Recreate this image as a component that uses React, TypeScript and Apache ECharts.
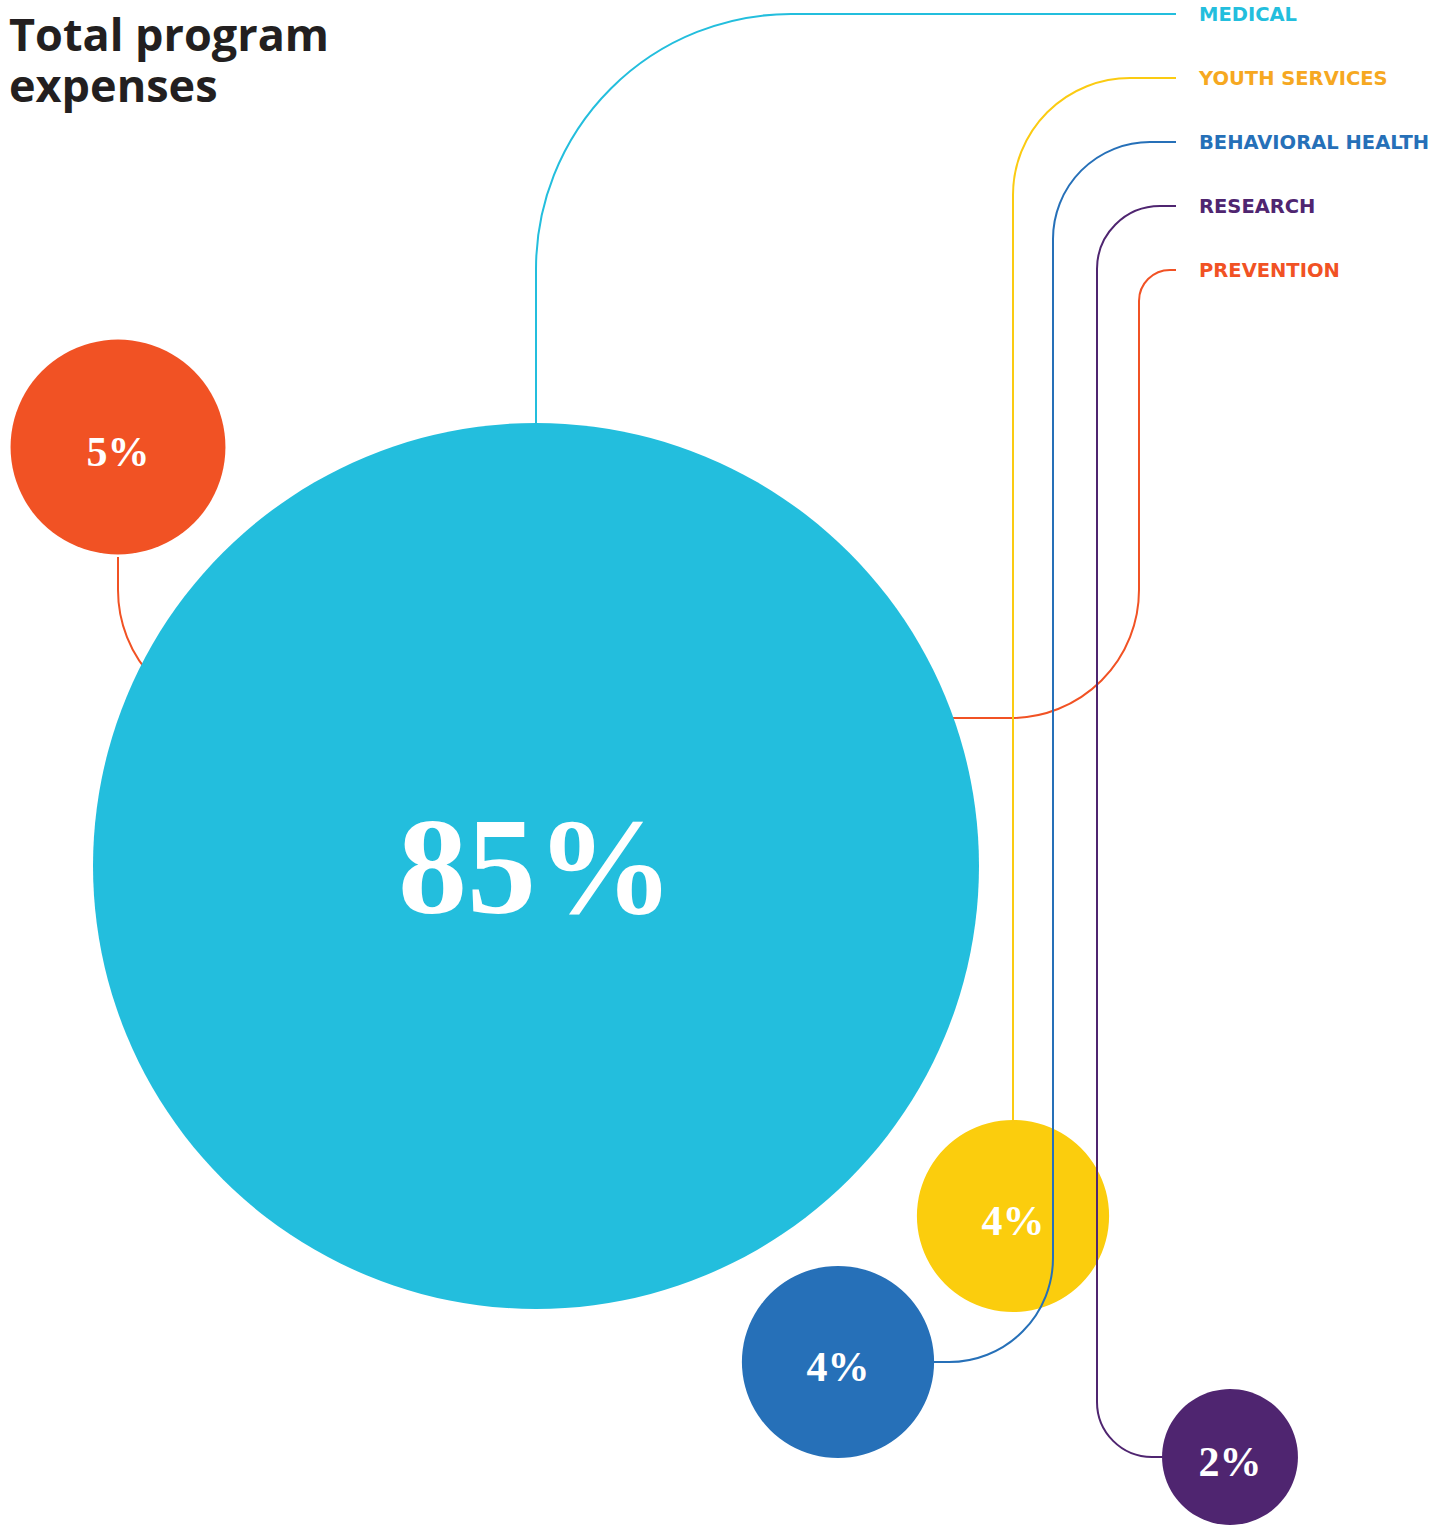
import React, { useEffect, useRef } from "react";
import * as echarts from "echarts";

// ---- data ----
const categories = ["Medical", "Youth Services", "Behavioral Health", "Research", "Prevention"];
const shares = [85, 4, 4, 2, 5];
const legendLabels = ["MEDICAL", "YOUTH SERVICES", "BEHAVIORAL HEALTH", "RESEARCH", "PREVENTION"];
const titleText = "Total program\nexpenses";

// ---- layout (axes are 1:1 with pixels) ----
const centers = [
  [536, 866],
  [1013, 1216],
  [838, 1362],
  [1230, 1457],
  [118, 447],
];
const routes = [
  [[536, 424], [536, 14], [1176, 14]],
  [[1013, 1124], [1013, 78], [1176, 78]],
  [[931, 1362], [1053, 1362], [1053, 142], [1176, 142]],
  [[1163, 1457], [1097, 1457], [1097, 206], [1176, 206]],
  [[118, 557], [118, 718], [1139, 718], [1139, 270], [1176, 270]],
];
const cornerRadii = [[255], [117], [104, 97], [55, 63], [128, 128, 31]];
const behind = [false, false, false, false, true];

// ---- styles ----
const fillColors = ["#23BEDD", "#FBCD0D", "#2670B8", "#4F2570", "#F15224"];
const lineColors = ["#23BEDD", "#FBCB12", "#2670B8", "#4F2570", "#F15224"];
const textColors = ["#23BEDD", "#F6A821", "#2670B8", "#4F2570", "#F15224"];
const sizeFactor = 96.1;

function roundedPath(pts: number[][], radii: number[]): string {
  let d = `M${pts[0][0]},${pts[0][1]}`;
  for (let i = 1; i < pts.length - 1; i++) {
    const p0 = pts[i - 1], p = pts[i], p1 = pts[i + 1];
    const r = radii[i - 1];
    const l0 = Math.hypot(p[0] - p0[0], p[1] - p0[1]);
    const l1 = Math.hypot(p1[0] - p[0], p1[1] - p[1]);
    const din = [(p[0] - p0[0]) / l0, (p[1] - p0[1]) / l0];
    const dout = [(p1[0] - p[0]) / l1, (p1[1] - p[1]) / l1];
    const a = [p[0] - din[0] * r, p[1] - din[1] * r];
    const b = [p[0] + dout[0] * r, p[1] + dout[1] * r];
    const cross = din[0] * dout[1] - din[1] * dout[0];
    const sweep = cross > 0 ? 1 : 0;
    d += ` L${a[0]},${a[1]} A${r},${r} 0 0 ${sweep} ${b[0]},${b[1]}`;
  }
  const last = pts[pts.length - 1];
  d += ` L${last[0]},${last[1]}`;
  return d;
}

function connectorSeries(isBehind: boolean) {
  const idx = routes.map((_, i) => i).filter((i) => behind[i] === isBehind);
  return {
    type: "custom",
    coordinateSystem: "cartesian2d",
    z: isBehind ? 1 : 3,
    silent: true,
    clip: false,
    data: idx.map((i) => {
      const r = routes[i];
      const last = r[r.length - 1];
      return { value: [last[0], last[1], i] };
    }),
    renderItem: (params: any, api: any) => {
      const i = api.value(2);
      const pts = routes[i].map((p) => api.coord(p));
      const d = roundedPath(pts, cornerRadii[i]);
      const end = pts[pts.length - 1];
      return {
        type: "group",
        children: [
          {
            type: "path",
            shape: { pathData: d },
            style: { stroke: lineColors[i], lineWidth: 2, fill: "none" },
          },
          {
            type: "text",
            x: end[0] + 23,
            y: end[1],
            style: {
              text: legendLabels[i],
              fill: textColors[i],
              fontSize: 19.5,
              fontWeight: "bold",
              fontFamily: "DejaVu Sans",
              align: "left",
              verticalAlign: "middle",
            },
          },
        ],
      };
    },
  };
}

export default function App() {
  const ref = useRef<HTMLDivElement>(null);
  useEffect(() => {
    if (!ref.current) return;
    const chart = echarts.init(ref.current, null, { renderer: "svg" });
    chart.setOption({
      animation: false,
      backgroundColor: "#ffffff",
      title: {
        text: titleText,
        left: 9,
        top: 8,
        padding: 0,
        textStyle: {
          fontSize: 45,
          lineHeight: 51,
          fontWeight: "bold",
          fontFamily: "Open Sans",
          color: "#231F20",
        },
      },
      grid: { left: 0, right: 0, top: 0, bottom: 0 },
      xAxis: { type: "value", min: 0, max: 1450, show: false },
      yAxis: { type: "value", min: 0, max: 1526, inverse: true, show: false },
      tooltip: { show: false },
      series: [
        connectorSeries(true),
        {
          type: "scatter",
          name: "Program expenses",
          z: 2,
          silent: true,
          symbol: "circle",
          symbolSize: (val: number[]) => sizeFactor * Math.sqrt(val[2]),
          data: shares.map((v, i) => ({
            name: categories[i],
            value: [centers[i][0], centers[i][1], v],
            itemStyle: { color: fillColors[i], opacity: 1 },
            label: {
              fontSize: v > 50 ? 138 : 42,
              offset: [0, v > 50 ? 0 : 5],
            },
          })),
          label: {
            show: true,
            position: "inside",
            color: "#ffffff",
            fontFamily: "Liberation Serif",
            fontWeight: "bold",
            formatter: (p: any) => `${p.value[2]}%`,
          },
        },
        connectorSeries(false),
      ],
    });
    return () => chart.dispose();
  }, []);
  return (
    <div
      ref={ref}
      style={{ position: "absolute", left: 0, top: 0, width: 1450, height: 1526 }}
    />
  );
}
